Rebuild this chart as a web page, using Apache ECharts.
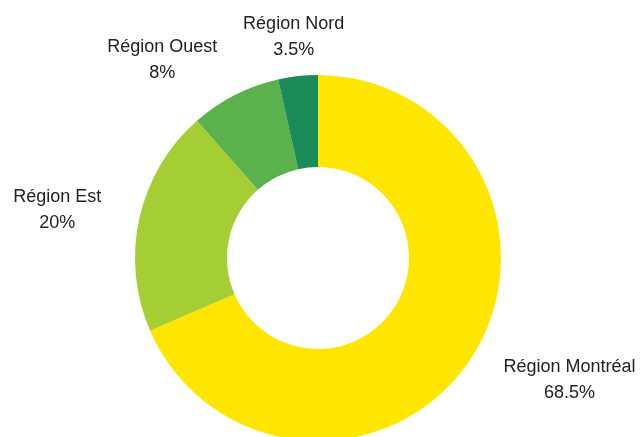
<!DOCTYPE html>
<html>
<head>
<meta charset="utf-8">
<script src="https://cdn.jsdelivr.net/npm/echarts@6/dist/echarts.min.js"></script>
<style>html,body{margin:0;padding:0;background:#fff;}#c{width:643px;height:437px;}</style>
</head>
<body>
<div id="c"></div>
<script>
const categories = ['Région Montréal', 'Région Est', 'Région Ouest', 'Région Nord'];
const values = [68.5, 20, 8, 3.5];
const colors = ['#FFE600', '#A5CE34', '#5BB14C', '#1C8B5A'];
// 'side': block sits beside the anchor; 'center': block centred on anchor
const labelModes = ['side', 'side', 'side', 'center'];

const chart = echarts.init(document.getElementById('c'), null, {renderer: 'canvas'});
chart.setOption({
  animation: false,
  series: [{
    type: 'pie',
    center: [318, 258],
    radius: [91, 183],
    startAngle: 90,
    clockwise: true,
    avoidLabelOverlap: false,
    silent: true,
    data: categories.map((name, i) => ({name: name, value: values[i], itemStyle: {color: colors[i]}})),
    label: {
      show: true,
      position: 'outside',
      formatter: '{b}\n{c}%',
      fontFamily: '"Liberation Sans", Arial, sans-serif',
      fontSize: 18,
      lineHeight: 26,
      color: '#222',
      distanceToLabelLine: 0
    },
    labelLine: {show: false, length: 39, length2: 0},
    labelLayout: function (p) {
      if (labelModes[p.dataIndex] === 'center') return {align: 'center'};
      const r = p.labelRect;
      return {x: r.x + r.width / 2, align: 'center'};
    }
  }]
});
</script>
</body>
</html>
